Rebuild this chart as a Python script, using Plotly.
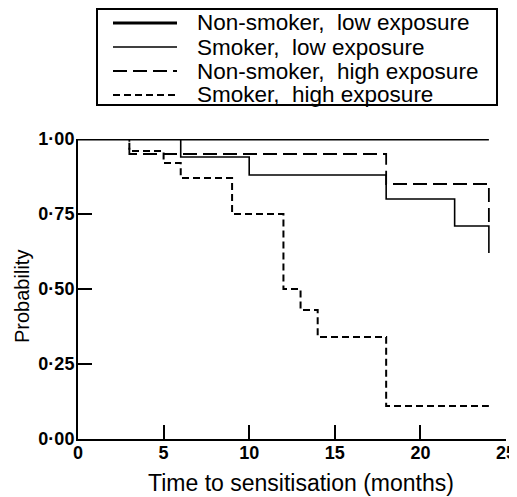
import plotly.graph_objects as go

# ---- data ----
series_names = ["Non-smoker,  low exposure", "Smoker,  low exposure",
                "Non-smoker,  high exposure", "Smoker,  high exposure"]
nonsmoker_low_t = [0, 24]
nonsmoker_low_p = [1.0, 1.0]
smoker_low_t = [0, 6, 10, 18, 22, 24]
smoker_low_p = [1.0, 0.94, 0.88, 0.80, 0.71, 0.62]
nonsmoker_high_t = [0, 3, 18, 24]
nonsmoker_high_p = [1.0, 0.95, 0.85, 0.71]
smoker_high_t = [0, 3, 5, 6, 9, 12, 13, 14, 18, 24]
smoker_high_p = [1.0, 0.96, 0.92, 0.87, 0.75, 0.50, 0.43, 0.34, 0.11, 0.11]

x_ticks = [0, 5, 10, 15, 20, 25]
y_ticks = [0, 0.25, 0.5, 0.75, 1.0]
y_tick_text = ["0·00", "0·25", "0·50", "0·75", "1·00"]
x_title = "Time to sensitisation (months)"
y_title = "Probability"

styles = [
    dict(color="black", width=2.8, dash="solid"),
    dict(color="black", width=1.6, dash="solid"),
    dict(color="black", width=1.8, dash="14px,6px"),
    dict(color="black", width=2.0, dash="7px,4px"),
]
data = [(nonsmoker_low_t, nonsmoker_low_p), (smoker_low_t, smoker_low_p),
        (nonsmoker_high_t, nonsmoker_high_p), (smoker_high_t, smoker_high_p)]

FONT = "Liberation Sans, Arial, sans-serif"

fig = go.Figure()
for (t, p), name, st in zip(data, series_names, styles):
    fig.add_trace(go.Scatter(x=t, y=p, mode="lines", line_shape="hv",
                             name=name, line=st, showlegend=False))

# page body has an 8px margin
OFF = 8
W, H = 517 - OFF, 497 - OFF
# plot area in screenshot pixels
L, R, T, B = 78, 506, 139, 439
def px(x):
    return (x - L) / (R - L)
def py(y):
    return (B - y) / (B - T)

shapes = [dict(type="rect", xref="paper", yref="paper",
               x0=px(97), x1=px(497), y0=py(105), y1=py(9),
               line=dict(color="black", width=2), fillcolor="rgba(0,0,0,0)")]
annotations = []
rows = [23, 47, 71, 95]
for name, st, ry in zip(series_names, styles, rows):
    shapes.append(dict(type="line", xref="paper", yref="paper",
                       x0=px(113), x1=px(177), y0=py(ry), y1=py(ry),
                       line=st))
    annotations.append(dict(xref="paper", yref="paper", x=px(195), y=py(ry),
                            text=name, showarrow=False, xanchor="left",
                            yanchor="middle",
                            font=dict(family=FONT, size=22.5, color="black")))

# axis titles
annotations.append(dict(xref="paper", yref="paper", x=px(301), y=py(483),
                        text=x_title, showarrow=False, xanchor="center",
                        yanchor="middle",
                        font=dict(family=FONT, size=23, color="black")))
annotations.append(dict(xref="paper", yref="paper", x=px(22), y=py(297),
                        text=y_title, showarrow=False, xanchor="center",
                        yanchor="middle", textangle=-90,
                        font=dict(family=FONT, size=20, color="black")))

fig.update_layout(
    width=W, height=H,
    margin=dict(l=L - OFF, r=W - (R - OFF), t=T - OFF, b=H - (B - OFF), pad=0),
    paper_bgcolor="white", plot_bgcolor="white",
    shapes=shapes, annotations=annotations,
    font=dict(family=FONT, color="black"),
)
fig.update_xaxes(range=[0, 25], tickvals=x_ticks, ticks="inside", ticklen=14,
                 tickwidth=1.5, tickcolor="black", showline=True, linecolor="black",
                 linewidth=2, showgrid=False, zeroline=False, automargin=False,
                 ticklabelstandoff=-4, ticklabeloverflow="allow",
                 tickfont=dict(family=FONT, size=18, color="black", weight="bold"))
fig.update_yaxes(range=[0, 1], tickvals=y_ticks, ticktext=y_tick_text,
                 ticks="inside", ticklen=14, tickwidth=1.5, tickcolor="black",
                 showline=True, linecolor="black", linewidth=2, showgrid=False,
                 zeroline=False, automargin=False, ticklabelstandoff=-2,
                 tickfont=dict(family=FONT, size=18, color="black", weight="bold"))

fig.write_html("out.html")
